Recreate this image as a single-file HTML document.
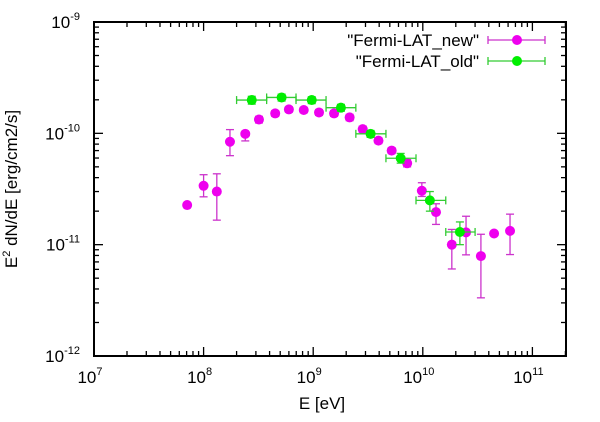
<!DOCTYPE html>
<html><head><meta charset="utf-8"><style>
body{margin:0;background:#fff;}
svg text{font-family:"Liberation Sans",sans-serif;fill:#000;}
</style></head><body>
<svg id="chart" width="600" height="417" xmlns="http://www.w3.org/2000/svg">
<g id="axes"></g>
<g id="marks"></g>
<g id="legend">
<text x="479" y="46" font-size="17" text-anchor="end">"Fermi-LAT_new"</text>
<text x="479" y="67" font-size="17" text-anchor="end">"Fermi-LAT_old"</text>
</g>
<text x="322" y="409" font-size="17" text-anchor="middle">E [eV]</text>
<text transform="translate(17,189) rotate(-90)" font-size="17" text-anchor="middle">E<tspan font-size="11" dy="-7">2</tspan><tspan dy="7"> dN/dE [erg/cm2/s]</tspan></text>
</svg>
<script>
const newX=[7.08e7,1.0e8,1.32e8,1.74e8,2.4e8,3.2e8,4.5e8,6.0e8,8.2e8,1.13e9,1.55e9,2.15e9,2.83e9,3.94e9,5.2e9,7.2e9,9.8e9,1.32e10,1.84e10,2.48e10,3.39e10,4.47e10,6.25e10];
const newY=[2.27e-11,3.38e-11,3.0e-11,8.4e-11,9.9e-11,1.33e-10,1.51e-10,1.64e-10,1.62e-10,1.54e-10,1.51e-10,1.39e-10,1.09e-10,8.6e-11,7.0e-11,5.38e-11,3.05e-11,1.96e-11,1.0e-11,1.29e-11,7.9e-12,1.26e-11,1.33e-11];
const newYlo=[null,2.69e-11,1.66e-11,6.3e-11,8.55e-11,1.24e-10,1.42e-10,1.55e-10,1.53e-10,1.45e-10,1.42e-10,1.3e-10,1.02e-10,8.1e-11,6.6e-11,5.0e-11,2.71e-11,1.52e-11,6.05e-12,8.1e-12,3.33e-12,null,8.15e-12];
const newYhi=[null,4.25e-11,4.33e-11,1.08e-10,1.03e-10,1.42e-10,1.6e-10,1.73e-10,1.71e-10,1.63e-10,1.6e-10,1.48e-10,1.16e-10,9.1e-11,7.4e-11,5.8e-11,3.6e-11,2.33e-11,1.37e-11,1.8e-11,1.24e-11,null,1.88e-11];
const oldX=[2.75e8,5.15e8,9.7e8,1.79e9,3.34e9,6.28e9,1.16e10,2.18e10];
const oldY=[1.99e-10,2.1e-10,1.99e-10,1.7e-10,9.9e-11,5.97e-11,2.5e-11,1.3e-11];
const oldYlo=[1.83e-10,1.95e-10,1.85e-10,1.58e-10,9.2e-11,5.4e-11,2.0e-11,1.0e-11];
const oldYhi=[2.15e-10,2.25e-10,2.13e-10,1.82e-10,1.06e-10,6.6e-11,3.0e-11,1.6e-11];
const oldXlo=[2.0e8,3.76e8,6.97e8,1.31e9,2.45e9,4.61e9,8.67e9,1.62e10];
const oldXhi=[3.76e8,6.97e8,1.31e9,2.45e9,4.61e9,8.67e9,1.62e10,3.0e10];
const xTickExp=[7,8,9,10,11];
const yTickExp=[-12,-11,-10,-9];

const L=94,R=566,T=22,B=356;
const xMin=7,xMax=7+(R-L)/109.6;
const yMin=-12,yMax=-9;
function sx(v){return L+(Math.log10(v)-xMin)/(xMax-xMin)*(R-L);}
function sy(v){return B-(Math.log10(v)-yMin)/(yMax-yMin)*(B-T);}
const NS="http://www.w3.org/2000/svg";
function mk(tag,attrs,parent){const e=document.createElementNS(NS,tag);for(const k in attrs)e.setAttribute(k,attrs[k]);parent.appendChild(e);return e;}
const axes=document.getElementById('axes'),marks=document.getElementById('marks');
const frame=mk('rect',{x:L,y:T,width:R-L,height:B-T,fill:'none',stroke:'#000','stroke-width':2},axes);


function tick(x1,y1,x2,y2){const t=mk('line',{x1,y1,x2,y2,stroke:'#000','stroke-width':1.3},axes);

}
for(let e=7;e<=11;e++){for(let m=1;m<=9;m++){const v=m*Math.pow(10,e);const lx=Math.log10(v);if(lx>xMax)continue;const x=sx(v);const len=m===1?9:5;tick(x,B,x,B-len);tick(x,T,x,T+len);}}
for(let e=-12;e<=-9;e++){for(let m=1;m<=9;m++){const v=m*Math.pow(10,e);if(Math.log10(v)>yMax+1e-9)continue;const y=sy(v);const len=m===1?9:5;tick(L,y,L+len,y);tick(R,y,R-len,y);}}
xTickExp.forEach(e=>{const t=mk('text',{x:sx(Math.pow(10,e))-4,y:383,'font-size':17,'text-anchor':'middle'},axes);t.innerHTML='10<tspan font-size="11" dy="-8">'+e+'</tspan>';

});
yTickExp.forEach(e=>{const t=mk('text',{x:80,y:sy(Math.pow(10,e))+6,'font-size':17,'text-anchor':'end'},axes);t.innerHTML='10<tspan font-size="11" dy="-8">'+e+'</tspan>';

});
function line(x1,y1,x2,y2,c,g){mk('line',{x1,y1,x2,y2,stroke:c,'stroke-width':1.3},g);}
function errY(x,y1,y2,c,g){line(x,y1,x,y2,c,g);line(x-4,y1,x+4,y1,c,g);line(x-4,y2,x+4,y2,c,g);}
function errX(y,x1,x2,c,g){line(x1,y,x2,y,c,g);line(x1,y-4,x1,y+4,c,g);line(x2,y-4,x2,y+4,c,g);}
const MAG='#ee00ee',MAGL='#cc33cc',GRN='#00ee00',GRNL='#33cc33';
newX.forEach((v,i)=>{const g=mk('g',{},marks);


const x=sx(v),y=sy(newY[i]);
if(newYlo[i]!==null)errY(x,sy(newYlo[i]),sy(newYhi[i]),MAGL,g);
mk('circle',{cx:x,cy:y,r:5,fill:MAG},g);});
oldX.forEach((v,i)=>{const g=mk('g',{},marks);


const x=sx(v),y=sy(oldY[i]);
errX(y,sx(oldXlo[i]),sx(oldXhi[i]),GRNL,g);
errY(x,sy(oldYlo[i]),sy(oldYhi[i]),GRNL,g);
mk('circle',{cx:x,cy:y,r:5,fill:GRN},g);});
const lg=document.getElementById('legend');
function legSample(y,c,cl,name){const g=mk('g',{},lg);


errX(y,488,545,cl,g);mk('circle',{cx:517,cy:y,r:5,fill:c},g);}
legSample(40,MAG,MAGL,'legend-sample-new');
legSample(61,GRN,GRNL,'legend-sample-old');
</script>
</body></html>
